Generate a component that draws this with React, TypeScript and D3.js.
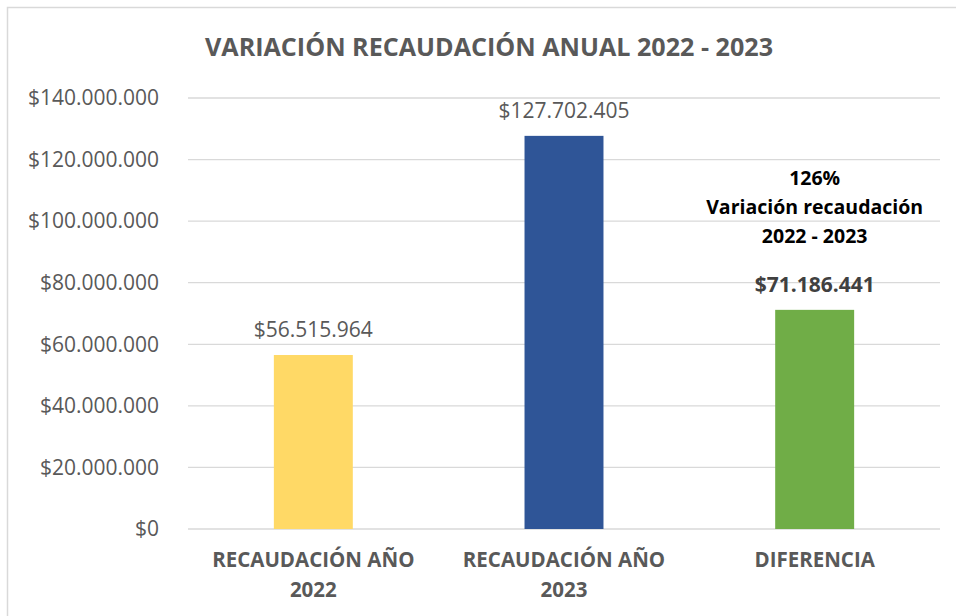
import * as d3 from "d3"

// chart data
const categories = [["RECAUDACIÓN AÑO", "2022"], ["RECAUDACIÓN AÑO", "2023"], ["DIFERENCIA"]]
const values = [56515964, 127702405, 71186441]
const barColors = ["#FFD966", "#2F5597", "#70AD47"]
const yTicks = [0, 20000000, 40000000, 60000000, 80000000, 100000000, 120000000, 140000000]
const annotation = ["126%", "Variación recaudación", "2022 - 2023"]

const width = 956
const height = 616
const margin = { top: 98, left: 188, right: 16, bottom: 87 }
const font = "'Open Sans', sans-serif"
const grey = "#595959"

// 56515964 -> $56.515.964
const money = (v: number) => "$" + d3.format(",")(v).replace(/,/g, ".")

export default function App() {
	const x = d3.scaleBand<number>()
		.domain(values.map((_, i) => i))
		.range([margin.left, width - margin.right])
		.paddingInner(0.685)
		.paddingOuter(0.3425)

	const y = d3.scaleLinear()
		.domain([0, 140000000])
		.range([height - margin.bottom, margin.top])

	const bw = x.bandwidth()

	return (
		<svg width={width} height={height} style={{ position: "absolute", left: 0, top: 0, background: "#fff" }}
			fontFamily={font}>
			{/* chart frame */}
			<rect x={7.5} y={7.5} width={width} height={height} fill="none" stroke="#d9d9d9" strokeWidth={1.5} />

			<text x={489} y={56} textAnchor="middle" fontSize={25} fontWeight={700} fill={grey}
				textLength={568} lengthAdjust="spacingAndGlyphs">
				VARIACIÓN RECAUDACIÓN ANUAL 2022 - 2023
			</text>

			{/* grid + y labels */}
			{yTicks.map(t => (
				<g key={t}>
					<line x1={margin.left} x2={width - margin.right} y1={y(t)} y2={y(t)} stroke="#d9d9d9" strokeWidth={1.3} />
					<text x={159} y={y(t)} dy="0.35em" textAnchor="end" fontSize={21} fill={grey}>{money(t)}</text>
				</g>
			))}

			{/* bars */}
			{values.map((v, i) => (
				<rect key={i} x={x(i)} y={y(v)} width={bw} height={y(0) - y(v)} fill={barColors[i]} />
			))}

			{/* value labels */}
			{values.map((v, i) => (
				<text key={i} x={x(i)! + bw / 2} y={y(v) - 18} textAnchor="middle" fontSize={21}
					fontWeight={i === 2 ? 700 : 400} fill={i === 2 ? "#404040" : grey}>{money(v)}</text>
			))}

			{/* annotation above difference bar */}
			{annotation.map((line, j) => (
				<text key={j} x={x(2)! + bw / 2} y={185 + j * 29} textAnchor="middle" fontSize={19.5}
					fontWeight={700} fill="#000">{line}</text>
			))}

			{/* category labels */}
			{categories.map((lines, i) => (
				<text key={i} x={x(i)! + bw / 2} textAnchor="middle" fontSize={20.5} fontWeight={700} fill={grey}>
					{lines.map((l, j) => (
						<tspan key={j} x={x(i)! + bw / 2} y={567 + j * 30}>{l}</tspan>
					))}
				</text>
			))}
		</svg>
	)
}
